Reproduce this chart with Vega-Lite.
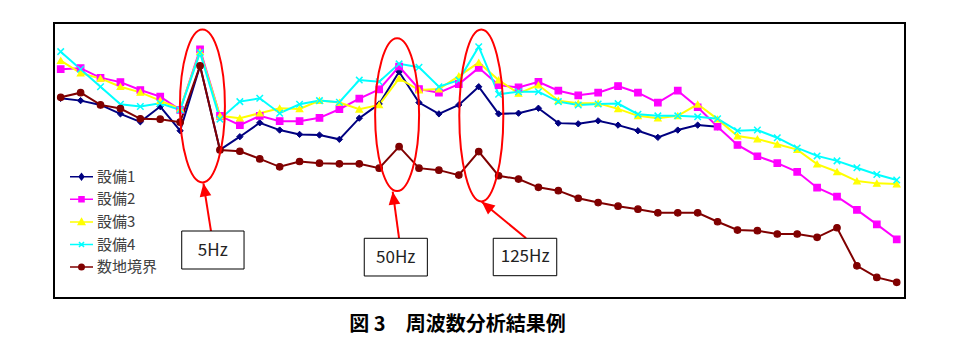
{
  "$schema": "https://vega.github.io/schema/vega-lite/v6.json",
  "width": 851,
  "height": 275,
  "autosize": {"type": "none"},
  "padding": {"left": 54, "top": 23, "right": 61, "bottom": 60},
  "background": "white",
  "title": {"text": "図 3　周波数分析結果例", "orient": "bottom", "offset": 17, "dx": -22, "fontSize": 20, "font": "Noto Sans CJK JP", "fontWeight": "bold", "color": "#000000"},
  "config": {"view": {"stroke": "#000000", "strokeWidth": 2}},
  "datasets": {
    "series": [
      {"series":"設備1","idx":0,"level":66.4},{"series":"設備1","idx":1,"level":65.7},{"series":"設備1","idx":2,"level":64.4},{"series":"設備1","idx":3,"level":61.7},{"series":"設備1","idx":4,"level":59.3},{"series":"設備1","idx":5,"level":63.9},{"series":"設備1","idx":6,"level":56.6},{"series":"設備1","idx":7,"level":76.2},{"series":"設備1","idx":8,"level":50.8},{"series":"設備1","idx":9,"level":54.8},{"series":"設備1","idx":10,"level":59.0},{"series":"設備1","idx":11,"level":56.8},{"series":"設備1","idx":12,"level":55.5},{"series":"設備1","idx":13,"level":55.3},{"series":"設備1","idx":14,"level":54.0},{"series":"設備1","idx":15,"level":60.4},{"series":"設備1","idx":16,"level":64.7},{"series":"設備1","idx":17,"level":74.4},{"series":"設備1","idx":18,"level":65.1},{"series":"設備1","idx":19,"level":61.7},{"series":"設備1","idx":20,"level":64.4},{"series":"設備1","idx":21,"level":69.9},{"series":"設備1","idx":22,"level":61.7},{"series":"設備1","idx":23,"level":61.9},{"series":"設備1","idx":24,"level":63.4},{"series":"設備1","idx":25,"level":58.9},{"series":"設備1","idx":26,"level":58.7},{"series":"設備1","idx":27,"level":59.6},{"series":"設備1","idx":28,"level":58.3},{"series":"設備1","idx":29,"level":56.6},{"series":"設備1","idx":30,"level":54.6},{"series":"設備1","idx":31,"level":56.8},{"series":"設備1","idx":32,"level":58.3},{"series":"設備1","idx":33,"level":57.8},
      {"series":"設備2","idx":0,"level":75.2},{"series":"設備2","idx":1,"level":75.5},{"series":"設備2","idx":2,"level":72.6},{"series":"設備2","idx":3,"level":71.3},{"series":"設備2","idx":4,"level":68.9},{"series":"設備2","idx":5,"level":66.9},{"series":"設備2","idx":6,"level":62.9},{"series":"設備2","idx":7,"level":81.2},{"series":"設備2","idx":8,"level":61.1},{"series":"設備2","idx":9,"level":58.3},{"series":"設備2","idx":10,"level":61.1},{"series":"設備2","idx":11,"level":59.5},{"series":"設備2","idx":12,"level":59.5},{"series":"設備2","idx":13,"level":60.5},{"series":"設備2","idx":14,"level":63.1},{"series":"設備2","idx":15,"level":66.3},{"series":"設備2","idx":16,"level":69.1},{"series":"設備2","idx":17,"level":76.0},{"series":"設備2","idx":18,"level":69.2},{"series":"設備2","idx":19,"level":68.1},{"series":"設備2","idx":20,"level":70.7},{"series":"設備2","idx":21,"level":75.6},{"series":"設備2","idx":22,"level":70.4},{"series":"設備2","idx":23,"level":69.7},{"series":"設備2","idx":24,"level":71.4},{"series":"設備2","idx":25,"level":68.7},{"series":"設備2","idx":26,"level":67.3},{"series":"設備2","idx":27,"level":68.1},{"series":"設備2","idx":28,"level":70.1},{"series":"設備2","idx":29,"level":68.1},{"series":"設備2","idx":30,"level":65.1},{"series":"設備2","idx":31,"level":68.7},{"series":"設備2","idx":32,"level":63.7},{"series":"設備2","idx":33,"level":57.8},{"series":"設備2","idx":34,"level":52.3},{"series":"設備2","idx":35,"level":48.9},{"series":"設備2","idx":36,"level":46.8},{"series":"設備2","idx":37,"level":44.2},{"series":"設備2","idx":38,"level":39.4},{"series":"設備2","idx":39,"level":36.7},{"series":"設備2","idx":40,"level":32.7},{"series":"設備2","idx":41,"level":28.3},{"series":"設備2","idx":42,"level":23.8},
      {"series":"設備3","idx":0,"level":77.8},{"series":"設備3","idx":1,"level":74.0},{"series":"設備3","idx":2,"level":72.4},{"series":"設備3","idx":3,"level":69.9},{"series":"設備3","idx":4,"level":68.2},{"series":"設備3","idx":5,"level":65.7},{"series":"設備3","idx":6,"level":63.2},{"series":"設備3","idx":7,"level":80.5},{"series":"設備3","idx":8,"level":61.1},{"series":"設備3","idx":9,"level":60.4},{"series":"設備3","idx":10,"level":61.9},{"series":"設備3","idx":11,"level":63.4},{"series":"設備3","idx":12,"level":63.2},{"series":"設備3","idx":13,"level":65.7},{"series":"設備3","idx":14,"level":65.1},{"series":"設備3","idx":15,"level":63.1},{"series":"設備3","idx":16,"level":64.4},{"series":"設備3","idx":17,"level":72.4},{"series":"設備3","idx":18,"level":68.9},{"series":"設備3","idx":19,"level":69.2},{"series":"設備3","idx":20,"level":73.1},{"series":"設備3","idx":21,"level":77.2},{"series":"設備3","idx":22,"level":71.9},{"series":"設備3","idx":23,"level":67.9},{"series":"設備3","idx":24,"level":70.4},{"series":"設備3","idx":25,"level":65.7},{"series":"設備3","idx":26,"level":64.9},{"series":"設備3","idx":27,"level":64.9},{"series":"設備3","idx":28,"level":63.2},{"series":"設備3","idx":29,"level":61.1},{"series":"設備3","idx":30,"level":60.4},{"series":"設備3","idx":31,"level":61.1},{"series":"設備3","idx":32,"level":64.6},{"series":"設備3","idx":33,"level":60.1},{"series":"設備3","idx":34,"level":55.0},{"series":"設備3","idx":35,"level":54.1},{"series":"設備3","idx":36,"level":52.5},{"series":"設備3","idx":37,"level":50.9},{"series":"設備3","idx":38,"level":46.5},{"series":"設備3","idx":39,"level":44.2},{"series":"設備3","idx":40,"level":41.4},{"series":"設備3","idx":41,"level":40.7},{"series":"設備3","idx":42,"level":40.5},
      {"series":"設備4","idx":0,"level":80.5},{"series":"設備4","idx":1,"level":75.2},{"series":"設備4","idx":2,"level":69.9},{"series":"設備4","idx":3,"level":64.6},{"series":"設備4","idx":4,"level":63.9},{"series":"設備4","idx":5,"level":64.9},{"series":"設備4","idx":6,"level":62.9},{"series":"設備4","idx":7,"level":80.2},{"series":"設備4","idx":8,"level":60.1},{"series":"設備4","idx":9,"level":65.4},{"series":"設備4","idx":10,"level":66.4},{"series":"設備4","idx":11,"level":61.9},{"series":"設備4","idx":12,"level":64.6},{"series":"設備4","idx":13,"level":65.7},{"series":"設備4","idx":14,"level":65.2},{"series":"設備4","idx":15,"level":71.9},{"series":"設備4","idx":16,"level":71.4},{"series":"設備4","idx":17,"level":76.8},{"series":"設備4","idx":18,"level":75.8},{"series":"設備4","idx":19,"level":69.9},{"series":"設備4","idx":20,"level":71.9},{"series":"設備4","idx":21,"level":82.0},{"series":"設備4","idx":22,"level":67.6},{"series":"設備4","idx":23,"level":68.4},{"series":"設備4","idx":24,"level":68.4},{"series":"設備4","idx":25,"level":65.4},{"series":"設備4","idx":26,"level":64.4},{"series":"設備4","idx":27,"level":64.7},{"series":"設備4","idx":28,"level":64.8},{"series":"設備4","idx":29,"level":61.6},{"series":"設備4","idx":30,"level":61.1},{"series":"設備4","idx":31,"level":61.1},{"series":"設備4","idx":32,"level":60.8},{"series":"設備4","idx":33,"level":60.2},{"series":"設備4","idx":34,"level":56.6},{"series":"設備4","idx":35,"level":56.8},{"series":"設備4","idx":36,"level":54.5},{"series":"設備4","idx":37,"level":51.4},{"series":"設備4","idx":38,"level":49.0},{"series":"設備4","idx":39,"level":47.5},{"series":"設備4","idx":40,"level":45.4},{"series":"設備4","idx":41,"level":43.4},{"series":"設備4","idx":42,"level":41.7},
      {"series":"数地境界","idx":0,"level":66.7},{"series":"数地境界","idx":1,"level":68.1},{"series":"数地境界","idx":2,"level":64.4},{"series":"数地境界","idx":3,"level":63.3},{"series":"数地境界","idx":4,"level":60.2},{"series":"数地境界","idx":5,"level":60.1},{"series":"数地境界","idx":6,"level":59.2},{"series":"数地境界","idx":7,"level":76.2},{"series":"数地境界","idx":8,"level":50.8},{"series":"数地境界","idx":9,"level":50.4},{"series":"数地境界","idx":10,"level":48.1},{"series":"数地境界","idx":11,"level":45.7},{"series":"数地境界","idx":12,"level":47.3},{"series":"数地境界","idx":13,"level":46.8},{"series":"数地境界","idx":14,"level":46.6},{"series":"数地境界","idx":15,"level":46.6},{"series":"数地境界","idx":16,"level":45.3},{"series":"数地境界","idx":17,"level":51.8},{"series":"数地境界","idx":18,"level":45.3},{"series":"数地境界","idx":19,"level":44.7},{"series":"数地境界","idx":20,"level":43.2},{"series":"数地境界","idx":21,"level":50.3},{"series":"数地境界","idx":22,"level":43.0},{"series":"数地境界","idx":23,"level":42.0},{"series":"数地境界","idx":24,"level":39.5},{"series":"数地境界","idx":25,"level":38.5},{"series":"数地境界","idx":26,"level":36.2},{"series":"数地境界","idx":27,"level":34.9},{"series":"数地境界","idx":28,"level":33.8},{"series":"数地境界","idx":29,"level":32.9},{"series":"数地境界","idx":30,"level":31.8},{"series":"数地境界","idx":31,"level":31.8},{"series":"数地境界","idx":32,"level":31.8},{"series":"数地境界","idx":33,"level":29.1},{"series":"数地境界","idx":34,"level":26.6},{"series":"数地境界","idx":35,"level":26.4},{"series":"数地境界","idx":36,"level":25.4},{"series":"数地境界","idx":37,"level":25.4},{"series":"数地境界","idx":38,"level":24.4},{"series":"数地境界","idx":39,"level":27.3},{"series":"数地境界","idx":40,"level":15.8},{"series":"数地境界","idx":41,"level":12.3},{"series":"数地境界","idx":42,"level":10.8}
    ],
    "notes": [
      {"label":"5Hz","ex":7.12,"ey":64.1,"ax":7.55,"ay":26.3,"tipX":7.17,"tipY":40.7,"bx1":6.08,"bx2":9.21,"by1":26.31,"by2":14.83,"tx":7.64,"ty":20.27},
      {"label":"50Hz","ex":16.90,"ey":61.45,"ax":17.0,"ay":24.1,"tipX":16.68,"tipY":38.19,"bx1":15.25,"bx2":18.42,"by1":24.11,"by2":12.72,"tx":16.83,"ty":18.25},
      {"label":"125Hz","ex":21.13,"ey":61.2,"ax":23.38,"ay":24.1,"tipX":21.15,"tipY":35.17,"bx1":21.73,"bx2":24.92,"by1":24.11,"by2":12.81,"tx":23.33,"ty":18.37}
    ]
  },
  "layer": [
    {
      "data": {"name": "series"},
      "mark": {"type": "line", "strokeWidth": 2},
      "encoding": {
        "x": {"field": "idx", "type": "quantitative", "scale": {"domain": [-0.337, 42.416], "nice": false, "zero": false}, "axis": null},
        "y": {"field": "level", "type": "quantitative", "scale": {"domain": [6.07, 89.15], "nice": false, "zero": false},
              "axis": {"title": null, "labels": false, "ticks": false, "domain": false, "grid": true, "values": [10,20,30,40,50,60,70,80], "gridColor": "#7a7a7a", "gridDash": [1.5,1], "gridWidth": 1}},
        "color": {"field": "series", "type": "nominal",
                  "scale": {"domain": ["設備1","設備2","設備3","設備4","数地境界"], "range": ["#000080","#FF00FF","#FFFF00","#00FFFF","#800000"]},
                  "legend": {"orient": "none", "legendX": 10, "legendY": 136.2, "direction": "vertical", "title": null, "fillColor": "white", "padding": 5, "symbolSize": 529, "rowPadding": 1.6, "labelFontSize": 15, "labelFont": "Noto Sans CJK JP", "labelColor": "#404040", "labelOffset": 3, "symbolStrokeWidth": 1.5,
                    "encode": {"symbols": {"update": {
                      "shape": {"signal": "datum.value === '設備1' ? 'M-1,0H1M0,-0.26L0.2,0L0,0.26L-0.2,0Z' : datum.value === '設備2' ? 'M-1,0H1M-0.22,-0.22H0.22V0.22H-0.22Z' : datum.value === '設備3' ? 'M-1,0H1M0,-0.28L0.28,0.22L-0.28,0.22Z' : datum.value === '設備4' ? 'M-1,0H1M-0.22,-0.22L0.22,0.22M-0.22,0.22L0.22,-0.22' : 'M-1,0H1M0.24,0C0.24,0.133 0.133,0.24 0,0.24C-0.133,0.24 -0.24,0.133 -0.24,0C-0.24,-0.133 -0.133,-0.24 0,-0.24C0.133,-0.24 0.24,-0.133 0.24,0Z'"},
                      "fill": {"scale": "color", "field": "value"},
                      "stroke": {"scale": "color", "field": "value"},
                      "strokeWidth": {"value": 1.5},
                      "opacity": {"value": 1}
                    }}}}}
      }
    },
    {
      "data": {"name": "series"},
      "transform": [{"filter": "datum.series === '設備1'"}],
      "mark": {"type": "point", "filled": true, "shape": "diamond", "size": 40, "color": "#000080", "stroke": "#000080", "strokeWidth": 1, "opacity": 1},
      "encoding": {
        "x": {"field": "idx", "type": "quantitative", "scale": {"domain": [-0.337, 42.416], "nice": false, "zero": false}, "axis": null},
        "y": {"field": "level", "type": "quantitative", "scale": {"domain": [6.07, 89.15], "nice": false, "zero": false}, "axis": null}
      }
    },
    {
      "data": {"name": "series"},
      "transform": [{"filter": "datum.series === '設備2'"}],
      "mark": {"type": "point", "filled": true, "shape": "square", "size": 42, "color": "#FF00FF", "stroke": "#FF00FF", "strokeWidth": 1.2, "opacity": 1},
      "encoding": {
        "x": {"field": "idx", "type": "quantitative", "scale": {"domain": [-0.337, 42.416], "nice": false, "zero": false}, "axis": null},
        "y": {"field": "level", "type": "quantitative", "scale": {"domain": [6.07, 89.15], "nice": false, "zero": false}, "axis": null}
      }
    },
    {
      "data": {"name": "series"},
      "transform": [{"filter": "datum.series === '設備3'"}],
      "mark": {"type": "point", "filled": true, "shape": "triangle-up", "size": 42, "color": "#FFFF00", "stroke": "#FFFF00", "strokeWidth": 1.2, "opacity": 1},
      "encoding": {
        "x": {"field": "idx", "type": "quantitative", "scale": {"domain": [-0.337, 42.416], "nice": false, "zero": false}, "axis": null},
        "y": {"field": "level", "type": "quantitative", "scale": {"domain": [6.07, 89.15], "nice": false, "zero": false}, "axis": null}
      }
    },
    {
      "data": {"name": "series"},
      "transform": [{"filter": "datum.series === '設備4'"}],
      "mark": {"type": "point", "filled": false, "shape": "M-1,-1L1,1M-1,1L1,-1", "size": 42, "stroke": "#00FFFF", "strokeWidth": 1.5, "opacity": 1},
      "encoding": {
        "x": {"field": "idx", "type": "quantitative", "scale": {"domain": [-0.337, 42.416], "nice": false, "zero": false}, "axis": null},
        "y": {"field": "level", "type": "quantitative", "scale": {"domain": [6.07, 89.15], "nice": false, "zero": false}, "axis": null}
      }
    },
    {
      "data": {"name": "series"},
      "transform": [{"filter": "datum.series === '数地境界'"}],
      "mark": {"type": "point", "filled": true, "shape": "circle", "size": 42, "color": "#800000", "stroke": "#800000", "strokeWidth": 1.2, "opacity": 1},
      "encoding": {
        "x": {"field": "idx", "type": "quantitative", "scale": {"domain": [-0.337, 42.416], "nice": false, "zero": false}, "axis": null},
        "y": {"field": "level", "type": "quantitative", "scale": {"domain": [6.07, 89.15], "nice": false, "zero": false}, "axis": null}
      }
    },
    {
      "data": {"name": "notes"},
      "layer": [
        {
          "transform": [{"filter": "datum.label === '5Hz'"}],
          "mark": {"type": "point", "filled": false, "stroke": "#FF0000", "strokeWidth": 2, "opacity": 1, "size": 23409,
                   "shape": "M0.294,0C0.294,0.552 0.162,1 0,1C-0.162,1 -0.294,0.552 -0.294,0C-0.294,-0.552 -0.162,-1 0,-1C0.162,-1 0.294,-0.552 0.294,0Z"},
          "encoding": {
            "x": {"field": "ex", "type": "quantitative", "scale": {"domain": [-0.337, 42.416], "nice": false, "zero": false}, "axis": null},
            "y": {"field": "ey", "type": "quantitative", "scale": {"domain": [6.07, 89.15], "nice": false, "zero": false}, "axis": null}
          }
        },
        {
          "transform": [{"filter": "datum.label === '50Hz'"}],
          "mark": {"type": "point", "filled": false, "stroke": "#FF0000", "strokeWidth": 2, "opacity": 1, "size": 23317,
                   "shape": "M0.288,0C0.288,0.552 0.159,1 0,1C-0.159,1 -0.288,0.552 -0.288,0C-0.288,-0.552 -0.159,-1 0,-1C0.159,-1 0.288,-0.552 0.288,0Z"},
          "encoding": {
            "x": {"field": "ex", "type": "quantitative", "scale": {"domain": [-0.337, 42.416], "nice": false, "zero": false}, "axis": null},
            "y": {"field": "ey", "type": "quantitative", "scale": {"domain": [6.07, 89.15], "nice": false, "zero": false}, "axis": null}
          }
        },
        {
          "transform": [{"filter": "datum.label === '125Hz'"}],
          "mark": {"type": "point", "filled": false, "stroke": "#FF0000", "strokeWidth": 2, "opacity": 1, "size": 29584,
                   "shape": "M0.256,0C0.256,0.552 0.141,1 0,1C-0.141,1 -0.256,0.552 -0.256,0C-0.256,-0.552 -0.141,-1 0,-1C0.141,-1 0.256,-0.552 0.256,0Z"},
          "encoding": {
            "x": {"field": "ex", "type": "quantitative", "scale": {"domain": [-0.337, 42.416], "nice": false, "zero": false}, "axis": null},
            "y": {"field": "ey", "type": "quantitative", "scale": {"domain": [6.07, 89.15], "nice": false, "zero": false}, "axis": null}
          }
        },
        {
          "mark": {"type": "rule", "stroke": "#FF0000", "strokeWidth": 2},
          "encoding": {
            "x": {"field": "ax", "type": "quantitative", "scale": {"domain": [-0.337, 42.416], "nice": false, "zero": false}, "axis": null},
            "y": {"field": "ay", "type": "quantitative", "scale": {"domain": [6.07, 89.15], "nice": false, "zero": false}, "axis": null},
            "x2": {"field": "tipX"},
            "y2": {"field": "tipY"}
          }
        },
        {
          "transform": [{"filter": "datum.label === '5Hz'"}],
          "mark": {"type": "point", "filled": true, "fill": "#FF0000", "strokeWidth": 0, "opacity": 1, "size": 676, "shape": "M0,0L0.45,1L-0.45,1Z", "angle": -9.2},
          "encoding": {
            "x": {"field": "tipX", "type": "quantitative", "scale": {"domain": [-0.337, 42.416], "nice": false, "zero": false}, "axis": null},
            "y": {"field": "tipY", "type": "quantitative", "scale": {"domain": [6.07, 89.15], "nice": false, "zero": false}, "axis": null}
          }
        },
        {
          "transform": [{"filter": "datum.label === '50Hz'"}],
          "mark": {"type": "point", "filled": true, "fill": "#FF0000", "strokeWidth": 0, "opacity": 1, "size": 676, "shape": "M0,0L0.45,1L-0.45,1Z", "angle": -7.7},
          "encoding": {
            "x": {"field": "tipX", "type": "quantitative", "scale": {"domain": [-0.337, 42.416], "nice": false, "zero": false}, "axis": null},
            "y": {"field": "tipY", "type": "quantitative", "scale": {"domain": [6.07, 89.15], "nice": false, "zero": false}, "axis": null}
          }
        },
        {
          "transform": [{"filter": "datum.label === '125Hz'"}],
          "mark": {"type": "point", "filled": true, "fill": "#FF0000", "strokeWidth": 0, "opacity": 1, "size": 676, "shape": "M0,0L0.45,1L-0.45,1Z", "angle": -50.4},
          "encoding": {
            "x": {"field": "tipX", "type": "quantitative", "scale": {"domain": [-0.337, 42.416], "nice": false, "zero": false}, "axis": null},
            "y": {"field": "tipY", "type": "quantitative", "scale": {"domain": [6.07, 89.15], "nice": false, "zero": false}, "axis": null}
          }
        },
        {
          "mark": {"type": "rect", "fill": "white", "stroke": "#000000", "strokeWidth": 1},
          "encoding": {
            "x": {"field": "bx1", "type": "quantitative", "scale": {"domain": [-0.337, 42.416], "nice": false, "zero": false}, "axis": null},
            "x2": {"field": "bx2"},
            "y": {"field": "by1", "type": "quantitative", "scale": {"domain": [6.07, 89.15], "nice": false, "zero": false}, "axis": null},
            "y2": {"field": "by2"}
          }
        },
        {
          "mark": {"type": "text", "font": "Noto Sans CJK JP", "fontSize": 17, "color": "#222222", "align": "center", "baseline": "middle"},
          "encoding": {
            "x": {"field": "tx", "type": "quantitative", "scale": {"domain": [-0.337, 42.416], "nice": false, "zero": false}, "axis": null},
            "y": {"field": "ty", "type": "quantitative", "scale": {"domain": [6.07, 89.15], "nice": false, "zero": false}, "axis": null},
            "text": {"field": "label", "type": "nominal"}
          }
        }
      ]
    }
  ]
}
